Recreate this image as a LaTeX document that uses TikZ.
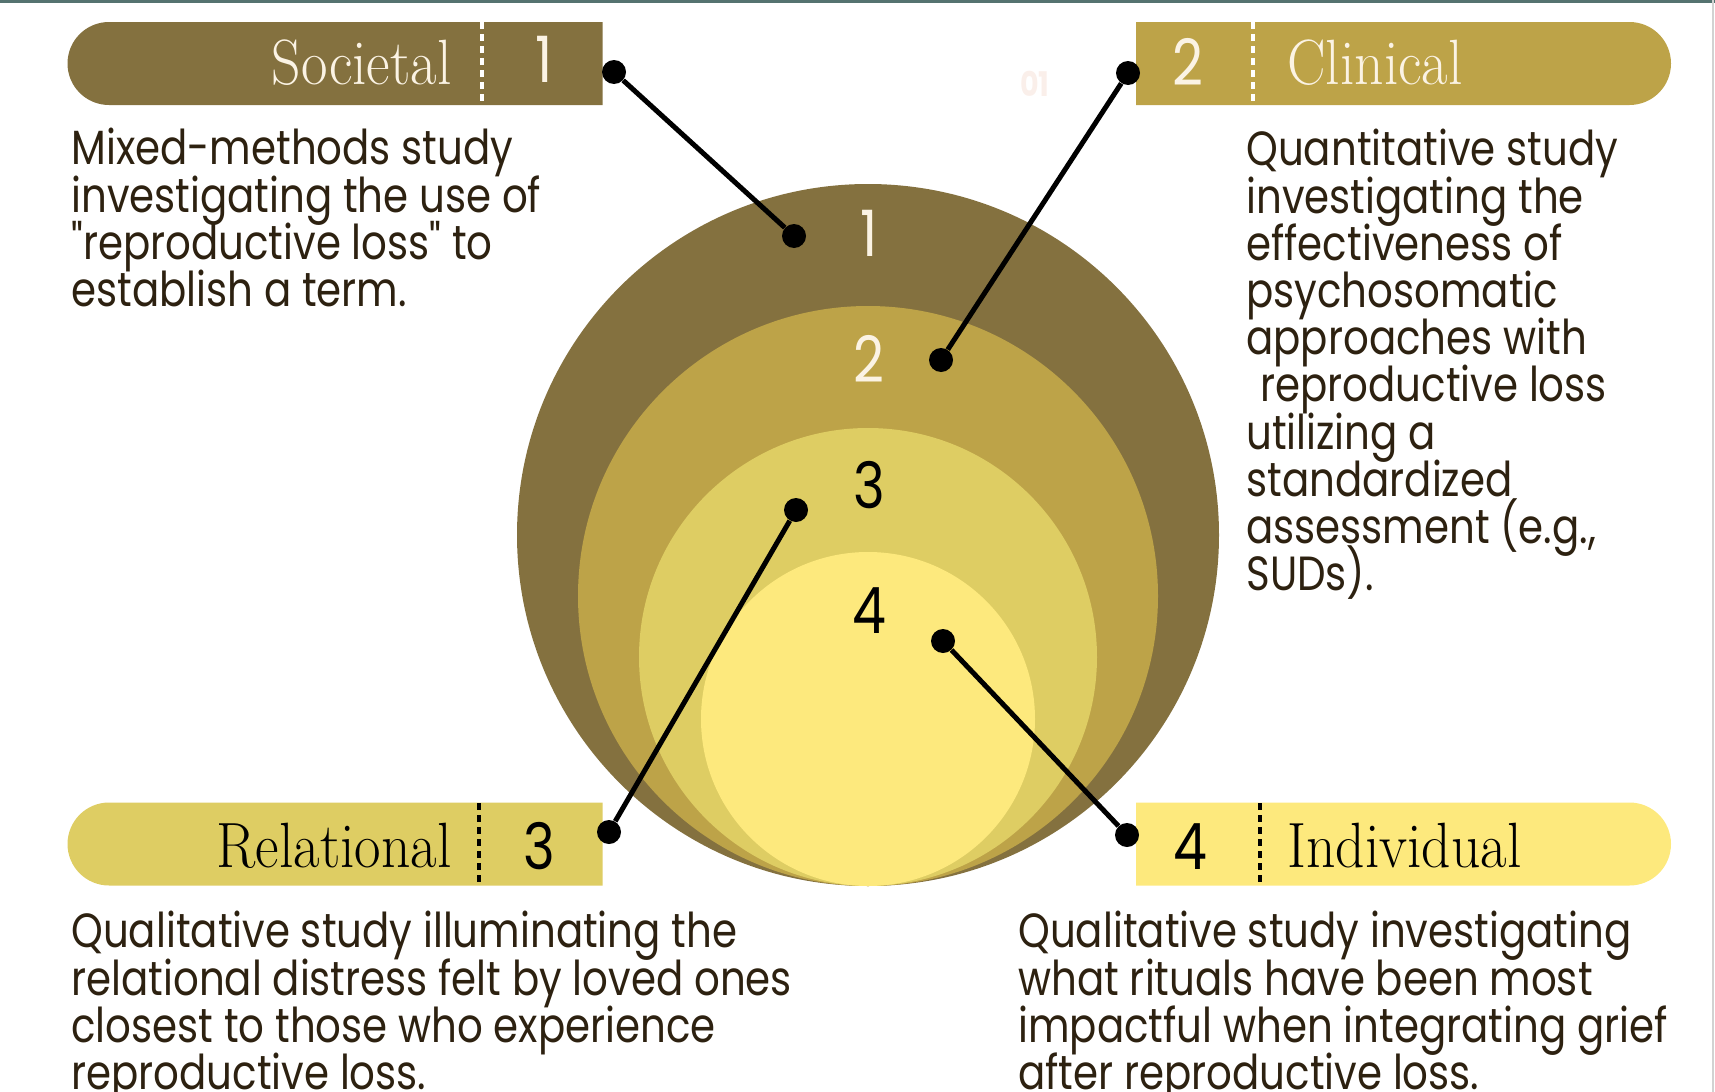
\documentclass[tikz,border=0pt]{standalone}
\usepackage{fontspec}
\usepackage{tikz}
\usetikzlibrary{shapes.misc}
\newfontfamily\blurbfont[FakeStretch=0.84]{Poppins}
\newfontfamily\tagserif[FakeStretch=0.9]{Latin Modern Roman}
\newcommand\blurbsize{\fontsize{24}{23.6}\selectfont\lineskiplimit=-50pt\relax\lineskip=0pt\relax}
\definecolor{ringone}{HTML}{84713F}
\definecolor{ringtwo}{HTML}{BDA348}
\definecolor{ringthree}{HTML}{DECD63}
\definecolor{ringfour}{HTML}{FDE97D}
\definecolor{blurbink}{HTML}{2D2110}
\definecolor{cream}{HTML}{FBF3E4}
\definecolor{slateband}{HTML}{557370}
\definecolor{ghostpink}{HTML}{FAEFEA}

\begin{document}
\begin{tikzpicture}[x=0.5pt,y=-0.5pt]

\tikzset{
ringtag/.style={
rounded rectangle,
minimum width=267.5pt,
minimum height=41.5pt,
inner sep=0pt
},
tagword/.style={
font=\tagserif\fontsize{32}{32}\selectfont,
inner sep=0pt
},
tagnum/.style={
font=\blurbfont\fontsize{32}{32}\selectfont,
inner sep=0pt
},
tagsep/.style={
line width=2pt,
dash pattern=on 3.5pt off 2.5pt
},
ringnum/.style={
font=\blurbfont\fontsize{32}{32}\selectfont,
inner sep=0pt
},
pindot/.style={
circle,
fill=black,
minimum size=12pt,
inner sep=0pt
},
pinline/.style={
line width=2.5pt
},
blurb/.style={
align=left,
anchor=north west,
inner sep=0pt,
text=blurbink,
font=\blurbfont\blurbsize
}
}

\useasboundingbox (0,0) rectangle (1715,1092);
\fill[slateband] (0,0) rectangle (1715,3);
\draw[gray!35,line width=1pt] (1713,0) -- (1713,1092);

%--------------------------------------------------
% RINGS
%--------------------------------------------------

\fill[ringone] (868,535) circle[radius=175.5pt];
\fill[ringtwo] (868,596) circle[radius=145pt];
\fill[ringthree] (868,657) circle[radius=114.5pt];
\fill[ringfour] (868,719) circle[radius=83.5pt];

\node[ringnum,text=cream] (num1) at (869,233) {1};
\node[ringnum,text=cream] (num2) at (869,359) {2};
\node[ringnum,text=black] (num3) at (869,485) {3};
\node[ringnum,text=black] (num4) at (869,611) {4};

\node[font=\blurbfont\bfseries\fontsize{17}{17}\selectfont,text=ghostpink] (ghost) at (1035,84) {01};

%--------------------------------------------------
% TAGS
%--------------------------------------------------

\node[ringtag,rounded rectangle east arc=none,fill=ringone] (societal) at (335,63.5) {};
\draw[tagsep,white] (482,22) -- (482,105);
\node[tagword,text=cream,anchor=base east] (societalword) at (452,84) {Societal};
\node[tagnum,text=cream,anchor=base] (societalnum) at (544,83) {1};

\node[ringtag,rounded rectangle west arc=none,fill=ringtwo] (clinical) at (1403.5,63.5) {};
\draw[tagsep,white] (1253,22) -- (1253,105);
\node[tagnum,text=cream,anchor=base] (clinicalnum) at (1188,85) {2};
\node[tagword,text=cream,anchor=base west] (clinicalword) at (1287,84) {Clinical};

\node[ringtag,rounded rectangle east arc=none,fill=ringthree] (relational) at (335,844) {};
\draw[tagsep,black] (479,803) -- (479,885);
\node[tagword,text=black,anchor=base east] (relationalword) at (452,867) {Relational};
\node[tagnum,text=black,anchor=base] (relationalnum) at (539,869) {3};

\node[ringtag,rounded rectangle west arc=none,fill=ringfour] (individual) at (1403.5,844) {};
\draw[tagsep,black] (1260,803) -- (1260,885);
\node[tagnum,text=black,anchor=base] (individualnum) at (1190,869) {4};
\node[tagword,text=black,anchor=base west] (individualword) at (1287,867) {Individual};

%--------------------------------------------------
% PINS
%--------------------------------------------------

\node[pindot] (pinsoc) at (614,72) {};
\node[pindot] (pinone) at (794,236) {};
\node[pindot] (pincli) at (1128,73) {};
\node[pindot] (pintwo) at (941,360) {};
\node[pindot] (pinrel) at (609,832) {};
\node[pindot] (pinthree) at (796,510) {};
\node[pindot] (pinind) at (1127,835) {};
\node[pindot] (pinfour) at (943,641) {};

\draw[pinline] (pinsoc) -- (pinone);
\draw[pinline] (pincli) -- (pintwo);
\draw[pinline] (pinrel) -- (pinthree);
\draw[pinline] (pinind) -- (pinfour);

%--------------------------------------------------
% DESCRIPTIONS
%--------------------------------------------------

\node[blurb] (socblurb) at (71,128) {Mixed-methods study\\investigating the use of\\"reproductive loss" to\\establish a term.};

\node[blurb] (cliblurb) at (1246,129) {Quantitative study\\investigating the\\effectiveness of\\psychosomatic\\approaches with\\\hspace*{7pt}reproductive loss\\utilizing a\\standardized\\assessment (e.g.,\\SUDs).};

\node[blurb] (relblurb) at (71,911) {Qualitative study illuminating the\\relational distress felt by loved ones\\closest to those who experience\\reproductive loss.};

\node[blurb] (indblurb) at (1018,911) {Qualitative study investigating\\what rituals have been most\\impactful when integrating grief\\after reproductive loss.};

\end{tikzpicture}
\end{document}
